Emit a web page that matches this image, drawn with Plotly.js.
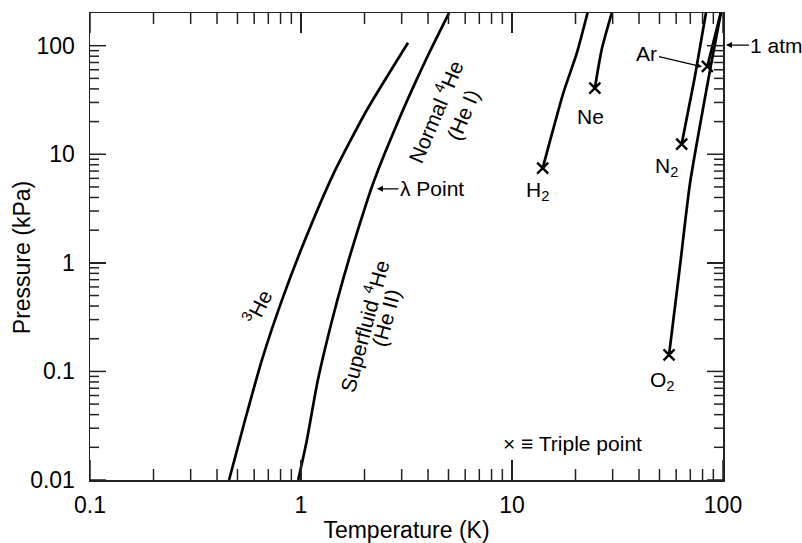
<!DOCTYPE html>
<html><head><meta charset="utf-8">
<script src="https://cdn.plot.ly/plotly-3.0.1.min.js"></script>
<style>html,body{margin:0;padding:0;background:#fff}#chart{width:802px;height:543px}</style>
</head><body><div id="chart"></div>
<script>
// Vapour-pressure curves (T in K, P in kPa)
const he3T = [0.456, 0.543, 0.653, 0.813, 1.045, 1.418, 2.055, 3.215];
const he3P = [0.01, 0.0357, 0.128, 0.456, 1.63, 6.47, 25.7, 106.6];
const he4T = [0.97, 1.06, 1.2, 1.4, 1.6, 1.8, 2.0, 2.17, 2.5, 3.0, 3.5, 4.0, 4.5, 5.03];
const he4P = [0.01, 0.022, 0.082, 0.29, 0.76, 1.64, 3.13, 5.04, 10.3, 24, 46.9, 81.6, 130, 200];
const h2T = [13.98, 17.5, 20.3, 22.8];
const h2P = [7.46, 36.6, 85.7, 200];
const neT = [24.7, 26.6, 29.7];
const neP = [40.7, 91.8, 200];
const n2T = [63.7, 73.6, 83.0];
const n2P = [12.4, 52, 200];
const arT = [84.3, 97.5];
const arP = [64.4, 200];
const o2T = [55.5, 62.5, 69.8, 87.4, 97.7];
const o2P = [0.142, 0.925, 5.43, 64, 200];
// Triple points
const tripleNames = ['H2', 'Ne', 'N2', 'Ar', 'O2'];
const tripleT = [13.98, 24.7, 63.7, 84.3, 55.5];
const tripleP = [7.46, 40.7, 12.4, 64.4, 0.142];
const atmP = 101.325;
// Axis ticks
const xTicks = [0.1, 1, 10, 100];
const xTickText = ['0.1', '1', '10', '100'];
const yTicks = [0.01, 0.1, 1, 10, 100];
const yTickText = ['0.01', '0.1', '1', '10', '100'];

const minorX = [], minorY = [];
[0.1, 1, 10].forEach(d => { for (let k = 2; k <= 9; k++) minorX.push(+(k * d).toPrecision(3)); });
[0.01, 0.1, 1, 10, 100].forEach(d => { for (let k = 2; k <= 9; k++) { const v = +(k * d).toPrecision(3); if (v < 200) minorY.push(v); } });

const FONT = 'Liberation Sans, Arial, Helvetica, sans-serif';
const lineStyle = {color: '#000', width: 2.7, shape: 'spline', smoothing: 0.6};
function curve(x, y) { return {x: x, y: y, type: 'scatter', mode: 'lines', line: lineStyle, hoverinfo: 'skip'}; }

const traces = [
  curve(he3T, he3P), curve(he4T, he4P), curve(h2T, h2P), curve(neT, neP),
  curve(n2T, n2P), curve(arT, arP), curve(o2T, o2P),
  {x: tripleT, y: tripleP, text: tripleNames, type: 'scatter', mode: 'markers', hoverinfo: 'skip',
   marker: {symbol: 'x-thin', size: 11, color: '#000', line: {color: '#000', width: 2.4}}}
];

const L = Math.log10;
const AFONT = {family: FONT, size: 21, color: '#000'};
function lab(t, p, text, angle) {
  return {x: L(t), y: L(p), xref: 'x', yref: 'y', text: text, showarrow: false,
          textangle: angle || 0, font: AFONT};
}
function arrowLab(x, y, xref, text, ax, ay) {
  return {x: x, y: y, xref: xref, yref: 'y', text: text, showarrow: true, ax: ax, ay: ay,
          arrowhead: 2, arrowsize: 1, arrowwidth: 1.2, arrowcolor: '#000', standoff: 0, font: AFONT};
}
const annotations = [
  lab(0.619, 0.393, '<sup>3</sup>He', -63),
  lab(1.98, 0.262, 'Superfluid <sup>4</sup>He', -75),
  lab(2.52, 0.309, '(He II)', -75),
  lab(4.305, 25.2, 'Normal <sup>4</sup>He', -67),
  lab(5.89, 23.1, '(He I)', -67),
  lab(13.14, 4.6, 'H<sub>2</sub>'),
  lab(23.43, 22.2, 'Ne'),
  lab(53.7, 7.6, 'N<sub>2</sub>'),
  lab(51.4, 0.082, 'O<sub>2</sub>'),
  lab(19.25, 0.0219, '\u00d7 \u2261 Triple point'),
  arrowLab(L(2.29), L(4.81), 'x', '\u03bb Point', 55, 0),
  arrowLab(L(79.5), L(64), 'x', 'Ar', -55, -13),
  arrowLab(1.0047, L(atmP), 'paper', '1 atm', 51, 0),
  {x: -0.1074, y: 0.475, xref: 'paper', yref: 'paper', xanchor: 'center', yanchor: 'middle',
   text: 'Pressure (kPa)', showarrow: false, textangle: -90, font: {family: FONT, size: 23, color: '#000'}}
];

// Axis ranges (log10 units)
const xRange = [L(0.1), L(100)];
const yRange = [L(0.01), L(200)];

// Tick marks (inside, on all four sides)
const PLOT_H = 543 - 13 - 63;
const TICK_LINE = {color: '#222', width: 1.5};
const shapes = [];
function xFrac(v) { return (L(v) - xRange[0]) / (xRange[1] - xRange[0]); }
function xTick(v, len) {
  const f = len / PLOT_H, xp = xFrac(v);
  shapes.push({type: 'line', xref: 'paper', yref: 'paper', x0: xp, x1: xp, y0: 0, y1: f, line: TICK_LINE, layer: 'above'});
  shapes.push({type: 'line', xref: 'paper', yref: 'paper', x0: xp, x1: xp, y0: 1, y1: 1 - f, line: TICK_LINE, layer: 'above'});
}
function yTick(v, len) {
  shapes.push({type: 'line', xref: 'paper', yref: 'y', y0: v, y1: v, xsizemode: 'pixel', xanchor: 0, x0: 0, x1: len, line: TICK_LINE, layer: 'above'});
  shapes.push({type: 'line', xref: 'paper', yref: 'y', y0: v, y1: v, xsizemode: 'pixel', xanchor: 1, x0: 0, x1: -len, line: TICK_LINE, layer: 'above'});
}
xTicks.forEach(v => xTick(v, 20));
minorX.forEach(v => xTick(v, 11));
yTicks.forEach(v => yTick(v, 16));
minorY.forEach(v => yTick(v, 9));

const TICKFONT = {family: FONT, size: 23, color: '#000'};
const layout = {
  width: 802, height: 543,
  margin: {l: 90, r: 79, t: 13, b: 63},
  showlegend: false,
  font: {family: FONT, color: '#000'},
  xaxis: {
    type: 'log', range: xRange, tickmode: 'array', tickvals: xTicks, ticktext: xTickText,
    ticks: 'inside', ticklen: 20, tickwidth: 1.5, tickcolor: '#222', showline: true, linecolor: '#222', linewidth: 1.5,
    mirror: 'ticks', showgrid: false, zeroline: false, tickfont: TICKFONT, ticklabelstandoff: 4,
    title: {text: 'Temperature (K)', font: {family: FONT, size: 23, color: '#000'}, standoff: 7}
  },
  yaxis: {
    type: 'log', range: yRange, tickmode: 'array', tickvals: yTicks, ticktext: yTickText,
    ticks: 'inside', ticklen: 16, tickwidth: 1.5, tickcolor: '#222', showline: true, linecolor: '#222', linewidth: 1.5,
    mirror: 'ticks', showgrid: false, zeroline: false, tickfont: TICKFONT, ticklabelstandoff: 9
  },
  shapes: shapes,
  annotations: annotations
};
Plotly.newPlot('chart', traces, layout, {staticPlot: true});
</script></body></html>
